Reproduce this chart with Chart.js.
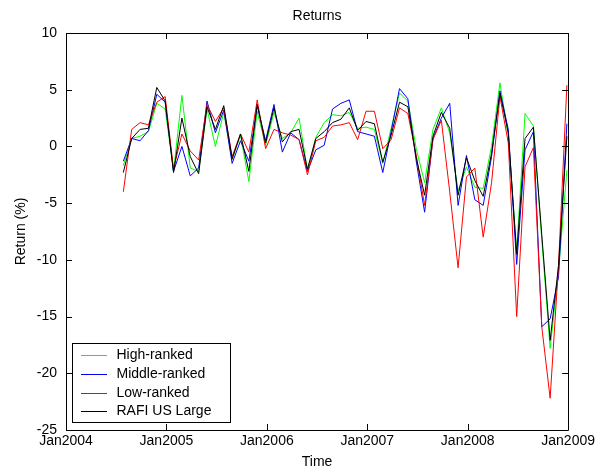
<!DOCTYPE html>
<html><head><meta charset="utf-8">
<script src="https://cdn.jsdelivr.net/npm/chart.js@4.4.1/dist/chart.umd.min.js"></script>
<style>html,body{margin:0;padding:0;background:#fff;overflow:hidden}#wrap{width:598px;height:474px}</style>
</head><body><div id="wrap"><canvas id="c" width="598" height="474"></canvas></div>
<script>
const months = [
 '2004-07','2004-08','2004-09','2004-10','2004-11','2004-12',
 '2005-01','2005-02','2005-03','2005-04','2005-05','2005-06','2005-07','2005-08','2005-09','2005-10','2005-11','2005-12',
 '2006-01','2006-02','2006-03','2006-04','2006-05','2006-06','2006-07','2006-08','2006-09','2006-10','2006-11','2006-12',
 '2007-01','2007-02','2007-03','2007-04','2007-05','2007-06','2007-07','2007-08','2007-09','2007-10','2007-11','2007-12',
 '2008-01','2008-02','2008-03','2008-04','2008-05','2008-06','2008-07','2008-08','2008-09','2008-10','2008-11','2008-12'
];
const highRanked = [
 -1.7, 0.7, 0.9, 1.3, 3.8, 3.3,
 -2.2, 4.5, -1.9, -2.2, 3.3, 0.0, 3.0, -1.2, 1.0, -3.1, 3.1, 0.1,
 3.0, 0.7, 1.2, 2.5, -2.1, 0.8, 2.1, 2.8, 2.7, 3.0, 1.6, 1.7,
 1.5, -1.5, 1.6, 4.7, 4.0, -0.2, -3.2, 1.5, 3.4, 1.2, -3.9, -1.8,
 -3.6, -3.7, 0.0, 5.6, 0.9, -9.2, 2.9, 1.8, -8.2, -17.8, -11.0, -2.1
];
const middleRanked = [
 -1.3, 0.7, 0.5, 1.4, 4.6, 3.9,
 -2.2, 0.0, -2.6, -1.9, 4.0, 1.2, 3.2, -1.5, 0.5, -1.3, 3.6, 0.5,
 3.7, -0.5, 1.2, 0.6, -2.2, -0.3, 0.1, 3.3, 3.8, 4.1, 1.3, 1.1,
 0.9, -2.3, 1.3, 5.1, 4.2, -1.3, -5.8, 0.7, 2.5, 3.8, -5.2, -0.8,
 -4.7, -5.2, -0.9, 4.9, 1.5, -10.4, -0.3, 1.3, -15.9, -15.2, -11.5, 2.0
];
const lowRanked = [
 -4.0, 1.5, 2.1, 1.9, 3.9, 4.4,
 -2.0, 1.1, -0.4, -1.2, 3.7, 2.2, 3.4, -0.9, 1.1, -0.5, 4.1, -0.2,
 1.5, 1.2, 1.0, 0.6, -2.5, 0.5, 0.8, 1.8, 1.9, 2.1, 0.6, 3.1,
 3.1, -0.2, 0.6, 3.4, 2.9, -0.8, -5.2, 0.6, 2.3, -4.0, -10.7, -2.7,
 -1.9, -8.0, -3.2, 4.4, 0.3, -15.0, -1.8, -0.1, -15.9, -22.2, -10.5, 5.4
];
const rafiUSLarge = [
 -2.3, 0.7, 1.5, 1.6, 5.2, 4.0,
 -2.3, 2.5, -0.9, -2.4, 3.5, 1.5, 3.6, -1.1, 1.1, -2.2, 3.7, 0.3,
 3.4, 0.4, 1.3, 1.5, -2.0, 0.7, 1.3, 2.1, 2.4, 3.4, 1.4, 2.2,
 2.0, -1.4, 1.0, 3.9, 3.5, -1.0, -4.3, 0.9, 3.0, 1.6, -4.3, -1.0,
 -3.0, -4.4, -0.6, 4.7, 1.2, -9.5, 0.7, 1.7, -7.8, -17.1, -10.5, 0.9
];
const xTickLabels = ['Jan2004','Jan2005','Jan2006','Jan2007','Jan2008','Jan2009'];
const seriesNames = ['High-ranked','Middle-ranked','Low-ranked','RAFI US Large'];
const seriesColors = ['#00ff00','#0000ff','#ff0000','#000000'];
const FONT = 'Arial, "Liberation Sans", sans-serif';

function monthPos(s){ const p = s.split('-').map(Number); return (p[0]-2004)*12 + (p[1]-1) + 0.85; }
function toPoints(arr){ return months.map((m,i)=>({x: monthPos(m), y: arr[i]})); }

const allSeries = [highRanked, middleRanked, lowRanked, rafiUSLarge];
const datasets = allSeries.map((arr,k)=>({
  label: seriesNames[k], data: toPoints(arr), borderColor: seriesColors[k], backgroundColor: seriesColors[k],
  borderWidth: 1, pointRadius: 0, fill: false, tension: 0, order: 4-k
}));

const boxPlugin = {
  id: 'boxTicks',
  afterDatasetsDraw(chart){
    const {ctx, chartArea: a, scales: {x, y}} = chart;
    ctx.save();
    ctx.strokeStyle = '#000'; ctx.lineWidth = 1;
    ctx.beginPath();
    ctx.rect(Math.round(a.left)+0.5, Math.round(a.top)+0.5, Math.round(a.right-a.left), Math.round(a.bottom-a.top));
    x.ticks.forEach(t=>{
      const px = Math.round(x.getPixelForValue(t.value))+0.5;
      ctx.moveTo(px, a.bottom); ctx.lineTo(px, a.bottom-6);
      ctx.moveTo(px, a.top); ctx.lineTo(px, a.top+6);
    });
    y.ticks.forEach(t=>{
      const py = Math.round(y.getPixelForValue(t.value))+0.5;
      ctx.moveTo(a.left, py); ctx.lineTo(a.left+6, py);
      ctx.moveTo(a.right, py); ctx.lineTo(a.right-6, py);
    });
    ctx.stroke();
    ctx.restore();
  },
  afterDraw(chart){
    const {ctx, chartArea: a} = chart;
    const left = Math.round(a.left)+6.5, bottom = Math.round(a.bottom)-7.5;
    const w = 158, h = 79, top = bottom - h;
    ctx.save();
    ctx.fillStyle = '#fff'; ctx.strokeStyle = '#000'; ctx.lineWidth = 1;
    ctx.fillRect(left, top, w, h); ctx.strokeRect(left, top, w, h);
    ctx.font = '14px ' + FONT; ctx.textBaseline = 'middle'; ctx.textAlign = 'left';
    chart.data.datasets.forEach((d,i)=>{
      const yy = Math.round(top + 11.5 + i*18.8);
      ctx.fillStyle = seriesColors[i];
      ctx.fillRect(Math.round(left)+8, yy, 26, 1);
      ctx.fillStyle = '#000'; ctx.fillText(d.label, left+44, yy+0.5);
    });
    ctx.restore();
  }
};

new Chart(document.getElementById('c'), {
  type: 'line',
  data: { datasets },
  options: {
    responsive: false, animation: false, devicePixelRatio: 1,
    layout: { padding: { left: 0, right: 28, top: 0, bottom: 0 } },
    plugins: {
      legend: { display: false }, tooltip: { enabled: false },
      title: { display: true, text: 'Returns', fullSize: false, color: '#000',
        font: { family: FONT, size: 14, weight: 'normal' }, padding: { top: 8, bottom: 8.2 } }
    },
    scales: {
      x: { type: 'linear', min: 0, max: 60,
        grid: { display: false, drawTicks: false }, border: { display: false },
        ticks: { stepSize: 12, autoSkip: false, maxRotation: 0, color: '#000', padding: 3,
          font: { family: FONT, size: 14 }, callback: v => xTickLabels[Math.round(v/12)] },
        title: { display: true, text: 'Time', color: '#000', font: { family: FONT, size: 14 }, padding: { top: 0, bottom: 3 } },
        afterFit: s => { s.height = 44; } },
      y: { min: -25, max: 10,
        grid: { display: false, drawTicks: false }, border: { display: false },
        ticks: { stepSize: 5, color: '#000', padding: 9, font: { family: FONT, size: 14 } },
        title: { display: true, text: 'Return (%)', color: '#000', font: { family: FONT, size: 14 }, padding: { top: 13, bottom: 0 } },
        afterFit: s => { s.width = 66; } }
    }
  },
  plugins: [boxPlugin]
});
</script></body></html>
